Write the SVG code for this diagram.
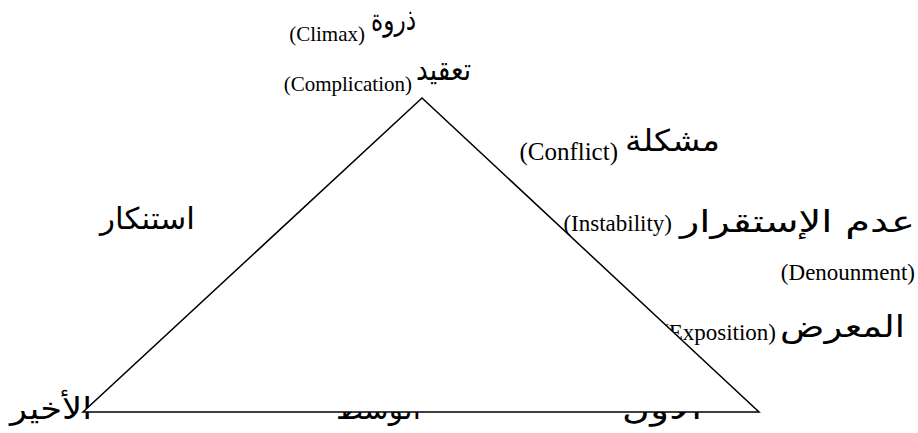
<svg xmlns="http://www.w3.org/2000/svg" width="918" height="433" viewBox="0 0 918 433">
<style>
.lat{font-family:"Liberation Serif","Times New Roman",serif;font-size:23px;fill:#000}
.sm{font-size:21px}
.lg{font-size:25px}
.ar{font-family:"DejaVu Sans","Noto Sans",sans-serif;font-size:30px;fill:#000}
.tri{fill:#fff;stroke:#000;stroke-width:1.5}
</style>
<g id="bottom-labels">
<text class="ar" x="10" y="419" textLength="82" lengthAdjust="spacingAndGlyphs">الأخير</text>
<text class="ar" x="336" y="419" textLength="85" lengthAdjust="spacingAndGlyphs">الوسط</text>
<text class="ar" x="622" y="419" textLength="80" lengthAdjust="spacingAndGlyphs">الأول</text>
</g>
<g id="exposition">
<text class="lat" x="776" y="340" text-anchor="end">(Exposition)</text>
<text class="ar" x="780" y="337" textLength="125" lengthAdjust="spacingAndGlyphs">المعرض</text>
</g>
<g id="connectors">
<polygon class="tri" points="422,98 83,412 759,412"/>
</g>
<g id="climax">
<text class="lat sm" x="365" y="41" text-anchor="end">(Climax)</text>
<text class="ar" x="371" y="30" textLength="45" lengthAdjust="spacingAndGlyphs">ذروة</text>
</g>
<g id="complication">
<text class="lat sm" x="412" y="91" text-anchor="end">(Complication)</text>
<text class="ar" x="416" y="80" textLength="55" lengthAdjust="spacingAndGlyphs">تعقيد</text>
</g>
<g id="conflict">
<text class="lat lg" x="618" y="160" text-anchor="end">(Conflict)</text>
<text class="ar" x="625" y="151" textLength="95" lengthAdjust="spacingAndGlyphs">مشكلة</text>
</g>
<g id="instability">
<text class="lat" x="672" y="231" text-anchor="end">(Instability)</text>
<text class="ar" x="680" y="232" textLength="235" lengthAdjust="spacingAndGlyphs">عدم الإستقرار</text>
</g>
<g id="denouement">
<text class="lat" x="915" y="280" text-anchor="end">(Denounment)</text>
</g>
<g id="anticlimax">
<text class="ar" x="100" y="229" textLength="95" lengthAdjust="spacingAndGlyphs">استنكار</text>
</g>
</svg>
